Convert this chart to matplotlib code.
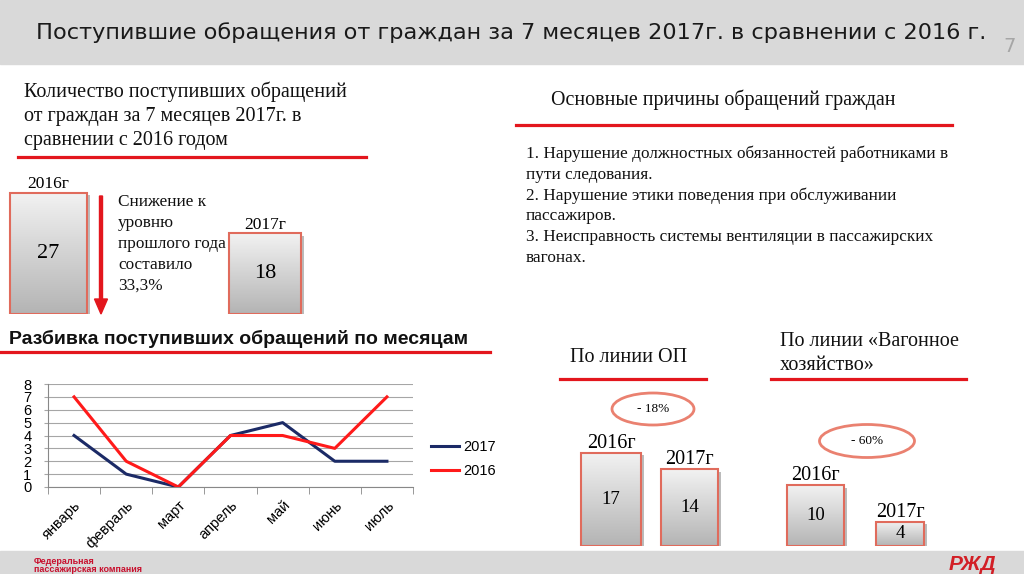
import matplotlib.pyplot as plt
import numpy as np
import matplotlib.patheffects as pe
from matplotlib.patches import Rectangle, Ellipse
from matplotlib.colors import LinearSegmentedColormap

W, H = 1024, 574

# data
months = ['январь', 'февраль', 'март', 'апрель', 'май', 'июнь', 'июль']
cnt_2017 = [4, 1, 0, 4, 5, 2, 2]
cnt_2016 = [7, 2, 0, 4, 4, 3, 7]

years = ['2016г', '2017г']
total = [27, 18]
total_op = [17, 14]
total_vagon = [10, 4]

RED = '#e3161d'
EDGE = '#e06b5c'
SERIF = 'Liberation Serif'
SANS = 'Liberation Sans'

fig = plt.figure(figsize=(W / 100, H / 100), dpi=100)
bg = fig.add_axes([0, 0, 1, 1])
bg.set_xlim(0, W)
bg.set_ylim(H, 0)
bg.axis('off')


def px_axes(x0, y0, x1, y1):
    ax = fig.add_axes([x0 / W, 1 - y1 / H, (x1 - x0) / W, (y1 - y0) / H])
    return ax


# header and footer bands
bg.add_patch(Rectangle((0, 0), W, 64, color='#d9d9d9', zorder=0))
bg.text(511, 33, 'Поступившие обращения от граждан за 7 месяцев 2017г. в сравнении с 2016 г.',
        ha='center', va='center', fontsize=16.1, family='DejaVu Sans', color='#1a1a1a')
bg.text(1010, 46, '7', ha='center', va='center', fontsize=14, color='#a6a6a6', family='DejaVu Sans')
bg.add_patch(Rectangle((0, 551), W, 23, color='#d9d9d9', zorder=0))
bg.text(34, 561, 'Федеральная', fontsize=6.5, color='#c8102e', fontweight='bold', va='center', family=SANS)
bg.text(34, 569.5, 'пассажирская компания', fontsize=6.5, color='#c8102e', fontweight='bold',
        va='center', family=SANS)
bg.text(972, 565, 'РЖД', fontsize=15, color='#d21f26', fontweight='bold', style='italic',
        ha='center', va='center', family=SANS)

# text blocks
left_lines = ['Количество поступивших обращений', 'от граждан за 7 месяцев 2017г. в', 'сравнении с 2016 годом']
for i, s in enumerate(left_lines):
    bg.text(24, 92 + 24 * i, s, fontsize=14.5, family=SERIF, va='center', color='#111111')
bg.plot([18, 366], [157, 157], color=RED, lw=2.3)

bg.text(551, 100, 'Основные причины обращений граждан', fontsize=14.4, family=SERIF, va='center', color='#111111')
bg.plot([516, 952], [125, 125], color=RED, lw=2.3)
reasons = ['1. Нарушение должностных обязанностей работниками в', 'пути следования.',
           '2. Нарушение этики поведения при обслуживании', 'пассажиров.',
           '3. Неисправность системы вентиляции в пассажирских', 'вагонах.']
for i, s in enumerate(reasons):
    bg.text(526, 154 + 20.8 * i, s, fontsize=12.4, family=SERIF, va='center', color='#111111')

drop = ['Снижение к', 'уровню', 'прошлого года', 'составило', '33,3%']
for i, s in enumerate(drop):
    bg.text(118, 202 + 21 * i, s, fontsize=12.4, family=SERIF, va='center', color='#111111')
bg.arrow(101, 196, 0, 118, width=3, head_width=13, head_length=15,
         length_includes_head=True, color=RED, zorder=5)

bg.text(9, 339, 'Разбивка поступивших обращений по месяцам', fontsize=14, family=SANS,
        fontweight='bold', va='center', color='#111111')
bg.plot([0, 490], [352, 352], color=RED, lw=2.3)

bg.text(570, 358, 'По линии ОП', fontsize=14.5, family=SERIF, va='center', color='#111111')
bg.plot([560, 706], [379, 379], color=RED, lw=2.3)
bg.text(780, 342, 'По линии «Вагонное', fontsize=14.5, family=SERIF, va='center', color='#111111')
bg.text(780, 366, 'хозяйство»', fontsize=14.5, family=SERIF, va='center', color='#111111')
bg.plot([771, 966], [379, 379], color=RED, lw=2.3)

bg.add_patch(Ellipse((653, 409), 82, 32, fill=False, edgecolor='#ea8170', lw=2))
bg.text(653, 409, '- 18%', ha='center', va='center', fontsize=9.5, family=SERIF)
bg.add_patch(Ellipse((867, 441), 95, 33, fill=False, edgecolor='#ea8170', lw=2))
bg.text(867, 441, '- 60%', ha='center', va='center', fontsize=9.5, family=SERIF)

# gradient boxes
gray = LinearSegmentedColormap.from_list('g', ['#f2f2f2', '#b4b4b4'])
grad = np.linspace(0, 1, 100).reshape(-1, 1)


def boxes(ax, xs, widths, values, labels, top, fs_val, fs_lab):
    ax.set_xlim(0, 1)
    ax.set_ylim(0, top)
    bars = ax.bar(xs, values, width=widths, color='#cccccc', edgecolor='none', zorder=2)
    for b, v, lab in zip(bars, values, labels):
        b.set_path_effects([pe.SimplePatchShadow(offset=(2, -2), alpha=0.35), pe.Normal()])
        x0, w, h = b.get_x(), b.get_width(), b.get_height()
        im = ax.imshow(grad, cmap=gray, extent=(x0, x0 + w, 0, h), aspect='auto',
                       origin='upper', zorder=3)
        im.set_clip_path(b)
        ax.add_patch(Rectangle((x0, 0), w, h, fill=False, edgecolor=EDGE, lw=1.5, zorder=4))
        ax.text(x0 + w / 2, h / 2, str(v), ha='center', va='center', fontsize=fs_val,
                family=SERIF, zorder=5)
        ax.text(x0 + w / 2, h, lab, ha='center', va='bottom', fontsize=fs_lab,
                family=SERIF, zorder=5)
    ax.set_xlim(0, 1)
    ax.set_ylim(0, top)
    ax.axis('off')


ax1 = px_axes(0, 170, 320, 314)
boxes(ax1, [48.5 / 320, 265 / 320], [77 / 320, 72 / 320], total, years, 144 / 4.5, 16, 12.5)

ax2 = px_axes(560, 400, 740, 546)
boxes(ax2, [51 / 180, 129.5 / 180], [60 / 180, 57 / 180], total_op, years, 146 / 5.5, 13.5, 14.5)

ax3 = px_axes(770, 400, 940, 546)
boxes(ax3, [45.5 / 170, 130 / 170], [57 / 170, 48 / 170], total_vagon, years, 146 / 6.1, 13.5, 14.5)

# line chart
ax = px_axes(48, 384, 413, 487)
x = np.arange(len(months))
ax.plot(x, cnt_2017, color='#1b2a66', lw=2.2, label='2017', zorder=3)
ax.plot(x, cnt_2016, color='#ff1a1a', lw=2.2, label='2016', zorder=3)
ax.set_xlim(-0.5, len(months) - 0.5)
ax.set_ylim(0, 8)
ax.set_yticks(range(9))
ax.yaxis.grid(True, color='#a6a6a6', lw=0.8)
ax.set_axisbelow(True)
for s in ['top', 'right']:
    ax.spines[s].set_visible(False)
ax.spines['left'].set_color('#888888')
ax.spines['bottom'].set_color('#888888')
ax.set_xticks(x)
ax.set_xticklabels(months, rotation=45, ha='right', rotation_mode='anchor', fontsize=10.5, family=SANS)
ax.set_xticks(np.arange(-0.5, len(months)), minor=True)
ax.tick_params(axis='x', which='major', length=0, pad=8)
ax.tick_params(axis='x', which='minor', length=5, color='#888888')
ax.tick_params(axis='y', length=3, color='#a6a6a6', pad=9, labelsize=10.5)
for t in ax.get_yticklabels():
    t.set_family(SANS)
ax.legend(loc='upper left', bbox_to_anchor=(1.05, 0.46), frameon=False, prop={'family': SANS, 'size': 10.5},
          handlelength=1.9, handletextpad=0.3, labelspacing=0.7, borderpad=0, borderaxespad=0)

fig.savefig('out.png', dpi=100)
